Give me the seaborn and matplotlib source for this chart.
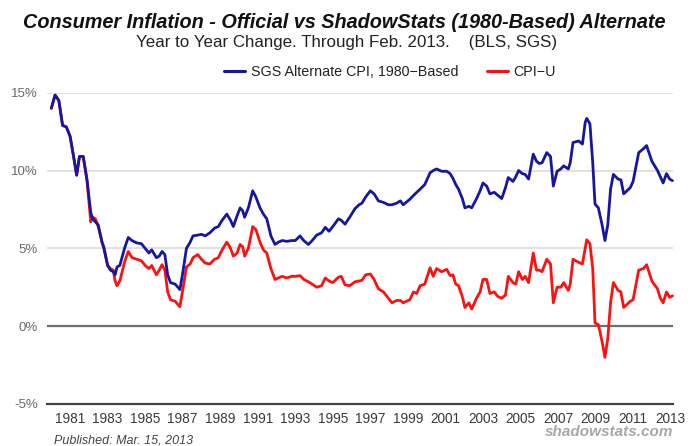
import numpy as np
import pandas as pd
import matplotlib
matplotlib.use("Agg")
import matplotlib.pyplot as plt
import seaborn as sns
from matplotlib.lines import Line2D

# ---- data (decimal year, % year-over-year) ----
years = [
    1980.0, 1980.2, 1980.4, 1980.6, 1980.8, 1981.0, 1981.2, 1981.35, 1981.5, 1981.7,
    1981.9, 1982.1, 1982.2, 1982.35, 1982.5, 1982.7, 1982.8, 1983.0, 1983.15, 1983.3,
    1983.4, 1983.5, 1983.65, 1983.9, 1984.1, 1984.3, 1984.55, 1984.8, 1985.0, 1985.2,
    1985.35, 1985.6, 1985.75, 1985.9, 1986.05, 1986.2, 1986.35, 1986.6, 1986.85, 1987.0,
    1987.2, 1987.4, 1987.55, 1987.8, 1988.0, 1988.2, 1988.45, 1988.7, 1988.9, 1989.1,
    1989.35, 1989.55, 1989.7, 1989.9, 1990.06, 1990.2, 1990.3, 1990.5, 1990.73, 1990.9,
    1991.12, 1991.3, 1991.48, 1991.7, 1991.92, 1992.1, 1992.3, 1992.55, 1992.8, 1993.0,
    1993.25, 1993.45, 1993.7, 1993.9, 1994.14, 1994.4, 1994.6, 1994.8, 1995.0, 1995.3,
    1995.45, 1995.65, 1995.9, 1996.18, 1996.4, 1996.55, 1996.75, 1997.0, 1997.2, 1997.43,
    1997.7, 1997.96, 1998.15, 1998.4, 1998.6, 1998.75, 1999.1, 1999.3, 1999.47, 1999.65,
    1999.9, 2000.18, 2000.35, 2000.53, 2000.8, 2001.07, 2001.25, 2001.4, 2001.55, 2001.7,
    2001.9, 2002.04, 2002.25, 2002.4, 2002.66, 2002.85, 2003.0, 2003.2, 2003.37, 2003.6,
    2003.8, 2004.0, 2004.2, 2004.35, 2004.6, 2004.75, 2004.9, 2005.1, 2005.25, 2005.43,
    2005.68, 2005.85, 2006.0, 2006.15, 2006.4, 2006.6, 2006.75, 2006.95, 2007.15, 2007.3,
    2007.55, 2007.65, 2007.8, 2008.1, 2008.3, 2008.45, 2008.53, 2008.7, 2008.85, 2008.97,
    2009.15, 2009.35, 2009.5, 2009.65, 2009.8, 2009.95, 2010.2, 2010.35, 2010.5, 2010.85,
    2011.0, 2011.3, 2011.55, 2011.72, 2012.0, 2012.3, 2012.45, 2012.6, 2012.78, 2012.95,
    2013.1,
]

sgs_alternate = [
    14.0, 14.85, 14.5, 12.9, 12.8, 12.2, 10.8, 9.7, 10.9, 10.9,
    9.4, 7.3, 6.9, 6.7, 6.5, 5.4, 5.0, 3.9, 3.6, 3.5,
    3.3, 3.8, 3.9, 5.0, 5.7, 5.5, 5.35, 5.3, 5.0, 4.7,
    4.9, 4.4, 4.5, 4.8, 4.6, 3.3, 2.8, 2.7, 2.35, 3.4,
    5.0, 5.4, 5.8, 5.85, 5.9, 5.8, 6.0, 6.3, 6.4, 6.8,
    7.2, 6.8, 6.4, 7.1, 7.6, 7.4, 7.0, 7.6, 8.7, 8.3,
    7.6, 7.2, 6.9, 5.8, 5.25, 5.4, 5.5, 5.45, 5.5, 5.5,
    5.8, 5.5, 5.25, 5.5, 5.85, 6.0, 6.35, 6.1, 6.4, 6.9,
    6.8, 6.55, 7.0, 7.55, 7.8, 7.9, 8.3, 8.7, 8.5, 8.05,
    7.95, 7.8, 7.8, 7.9, 8.05, 7.8, 8.15, 8.4, 8.6, 8.8,
    9.1, 9.85, 10.0, 10.1, 9.95, 9.95, 9.8, 9.5, 9.1, 8.8,
    8.2, 7.6, 7.7, 7.6, 8.2, 8.7, 9.2, 9.0, 8.5, 8.6,
    8.4, 8.2, 8.9, 9.55, 9.3, 9.6, 10.0, 9.8, 9.75, 9.45,
    11.05, 10.6, 10.45, 10.5, 11.15, 10.9, 9.0, 9.95, 10.1, 10.3,
    10.1, 10.5, 11.8, 11.9, 11.7, 13.1, 13.35, 13.0, 10.5, 7.85,
    7.6, 6.5, 5.5, 6.5, 8.8, 9.75, 9.45, 9.4, 8.5, 8.9,
    9.3, 11.15, 11.4, 11.6, 10.6, 10.0, 9.6, 9.2, 9.8, 9.45,
    9.35,
]

cpi_u = [
    14.0, 14.85, 14.5, 12.9, 12.8, 12.2, 10.8, 9.7, 10.9, 10.9,
    9.4, 6.7, 7.0, 6.9, 6.4, 5.4, 5.1, 3.9, 3.7, 3.6,
    2.9, 2.6, 2.9, 4.1, 4.8, 4.4, 4.3, 4.2, 3.9, 3.7,
    3.9, 3.3, 3.6, 3.95, 3.6, 2.2, 1.7, 1.6, 1.25, 2.3,
    3.8, 4.0, 4.4, 4.6, 4.3, 4.05, 4.0, 4.3, 4.4, 4.9,
    5.4, 5.0, 4.5, 4.7, 5.25, 5.1, 4.5, 5.0, 6.4, 6.2,
    5.4, 4.9, 4.7, 3.7, 3.0, 3.1, 3.2, 3.1, 3.2, 3.2,
    3.25, 3.0, 2.85, 2.7, 2.5, 2.6, 3.1, 2.9, 2.8, 3.15,
    3.2, 2.65, 2.6, 2.85, 2.9, 2.95, 3.3, 3.35, 3.0, 2.4,
    2.2, 1.8, 1.5, 1.65, 1.65, 1.5, 1.7, 2.2, 2.1, 2.6,
    2.7, 3.75, 3.2, 3.7, 3.5, 3.65, 3.25, 3.3, 2.7, 2.6,
    1.9, 1.2, 1.5, 1.1, 1.8, 2.2, 3.0, 3.0, 2.1, 2.2,
    1.9, 1.8, 2.0, 3.2, 2.8, 2.7, 3.5, 3.0, 3.2, 2.8,
    4.7, 3.6, 3.6, 3.5, 4.3, 4.0, 1.5, 2.5, 2.5, 2.8,
    2.3, 2.7, 4.3, 4.1, 4.0, 5.0, 5.55, 5.3, 3.7, 0.2,
    0.1, -1.0, -2.0, -0.8, 1.5, 2.8, 2.3, 2.2, 1.2, 1.6,
    1.7, 3.6, 3.7, 3.95, 2.9, 2.4, 1.8, 1.5, 2.2, 1.85,
    1.95,
]

series_names = ["SGS Alternate CPI, 1980\u2212Based", "CPI\u2212U"]
x_tick_years = list(range(1981, 2014, 2))
y_tick_values = [-5, 0, 5, 10, 15]
y_tick_labels = ["-5%", "0%", "5%", "10%", "15%"]

# ---- build long-format table ----
df = pd.concat([
    pd.DataFrame({"year": years, "value": sgs_alternate, "series": series_names[0]}),
    pd.DataFrame({"year": years, "value": cpi_u, "series": series_names[1]}),
], ignore_index=True)

sns.set_style("white")
plt.rcParams["font.family"] = ["Liberation Sans", "DejaVu Sans"]

fig = plt.figure(figsize=(6.9, 4.46), dpi=100)
ax = fig.add_axes([47 / 690, 1 - 404 / 446, (672.5 - 47) / 690, (404 - 92.7) / 446])

# gridlines and zero line
for v in [5, 10, 15]:
    ax.axhline(v, color="#dcdcdc", lw=1.2, zorder=0)
ax.axhline(0, color="#6e6e6e", lw=1.6, zorder=1)

palette = {series_names[0]: "#1616a2", series_names[1]: "#ff1010"}
sns.lineplot(data=df, x="year", y="value", hue="series",
             hue_order=[series_names[1], series_names[0]],
             palette=palette, linewidth=2.0, ax=ax, legend=False,
             estimator=None, sort=False)
for ln in ax.get_lines()[-2:]:
    ln.set_clip_on(False)

ax.set_xlim(1979.77, 2013.1)
ax.set_ylim(-5, 15)
ax.set_xlabel("")
ax.set_ylabel("")

ax.set_xticks(x_tick_years)
ax.set_xticklabels([str(y) for y in x_tick_years], fontsize=9.8, color="#3a3a3a")
ax.set_yticks(y_tick_values)
ax.set_yticklabels(y_tick_labels, fontsize=9.5, color="#6a6a6a")
ax.tick_params(axis="x", direction="out", length=4.5, width=1.2, color="#333333", pad=1)
ax.tick_params(axis="y", direction="inout", length=5, width=1, color="#888888", pad=4)

for side in ["top", "right", "left"]:
    ax.spines[side].set_visible(False)
ax.spines["bottom"].set_color("#444444")
ax.spines["bottom"].set_linewidth(1.6)

# titles
fig.text(344 / 690, 1 - 23 / 446, "Consumer Inflation - Official vs ShadowStats (1980-Based) Alternate",
         ha="center", va="center", fontsize=14.3, fontweight="bold", fontstyle="italic", color="#111111")
fig.text(347 / 690, 1 - 43 / 446, "Year to Year Change. Through Feb. 2013.    (BLS, SGS)",
         ha="center", va="center", fontsize=12.2, color="#222222")

# legend
handles = [Line2D([], [], color=palette[n], lw=2.2) for n in series_names]
fig.legend(handles, series_names, loc="center", bbox_to_anchor=(390 / 690, 1 - 72.5 / 446),
           ncol=2, frameon=False, fontsize=10.3, handlelength=1.45, handletextpad=0.4,
           columnspacing=2.0, labelcolor="#222222")

# footer
fig.text(54 / 690, 1 - 440.5 / 446, "Published: Mar. 15, 2013", ha="left", va="center",
         fontsize=9, fontstyle="italic", color="#444444")
fig.text(673 / 690, 1 - 436 / 446, "shadowstats.com", ha="right", va="baseline",
         fontsize=11, fontstyle="italic", fontweight="bold", color="#a8a8a8")

fig.savefig("out.png", dpi=100)
